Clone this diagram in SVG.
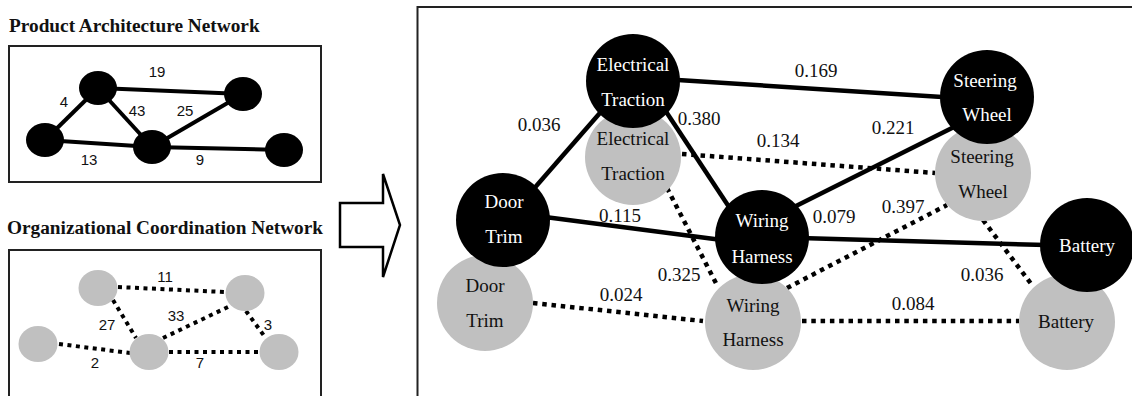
<svg xmlns="http://www.w3.org/2000/svg" width="1132" height="396" viewBox="0 0 1132 396">
  <style>
    .title { font-family: "Liberation Serif", "Times New Roman", serif; font-weight: bold; font-size: 19.3px; fill: #111; }
    .frame { fill: none; stroke: #222; stroke-width: 2; }
    .small { font-family: "Liberation Sans", Arial, sans-serif; font-size: 15px; fill: #111; text-anchor: middle; }
    .lbl { font-family: "Liberation Serif", "Times New Roman", serif; font-size: 19px; fill: #111; text-anchor: middle; }
    .pa { fill: #000; }
    .oc { fill: #c0c0c0; }
    .solid-s { stroke: #000; stroke-width: 4; fill: none; }
    .dot-s { stroke: #000; stroke-width: 4; stroke-dasharray: 4 4.5; fill: none; }
    .solid { stroke: #000; stroke-width: 4.5; fill: none; }
    .dot { stroke: #000; stroke-width: 4.5; stroke-dasharray: 4.5 4.8; fill: none; }
    .wt { fill: #fff; }
    .dk { fill: #111; }
  </style>

  <rect width="1132" height="396" fill="#fff"/>

  <!-- small product architecture network -->
  <text class="title" x="9" y="32">Product Architecture Network</text>
  <rect class="frame" x="9" y="46" width="312" height="136"/>
  <g id="pa-edges">
    <line class="solid-s" x1="98" y1="88" x2="243" y2="94"/>
    <line class="solid-s" x1="98" y1="88" x2="45" y2="140"/>
    <line class="solid-s" x1="98" y1="88" x2="152" y2="147"/>
    <line class="solid-s" x1="152" y1="147" x2="243" y2="94"/>
    <line class="solid-s" x1="45" y1="140" x2="152" y2="147"/>
    <line class="solid-s" x1="152" y1="147" x2="284" y2="150"/>
  </g>
  <g id="pa-nodes">
    <ellipse class="pa" cx="98" cy="88" rx="19" ry="17"/>
    <ellipse class="pa" cx="243" cy="94" rx="19" ry="17"/>
    <ellipse class="pa" cx="45" cy="140" rx="19" ry="17"/>
    <ellipse class="pa" cx="152" cy="147" rx="19" ry="17"/>
    <ellipse class="pa" cx="284" cy="150" rx="19" ry="17"/>
  </g>
  <g id="pa-labels">
    <text class="small" x="157" y="77">19</text>
    <text class="small" x="64" y="107">4</text>
    <text class="small" x="137" y="116">43</text>
    <text class="small" x="185" y="116">25</text>
    <text class="small" x="89" y="165">13</text>
    <text class="small" x="200" y="165">9</text>
  </g>

  <!-- small organizational coordination network -->
  <text class="title" x="7" y="234">Organizational Coordination Network</text>
  <rect class="frame" x="9" y="250" width="312" height="160"/>
  <g id="oc-edges">
    <line class="dot-s" x1="118" y1="287" x2="224" y2="292"/>
    <line class="dot-s" x1="113" y1="300" x2="136" y2="338"/>
    <line class="dot-s" x1="163" y1="338" x2="230" y2="306"/>
    <line class="dot-s" x1="246" y1="311" x2="265" y2="337"/>
    <line class="dot-s" x1="59" y1="344" x2="130" y2="353"/>
    <line class="dot-s" x1="169" y1="352" x2="260" y2="352"/>
  </g>
  <g id="oc-nodes">
    <ellipse class="oc" cx="98" cy="288" rx="19.5" ry="18"/>
    <ellipse class="oc" cx="245" cy="293" rx="19.5" ry="18"/>
    <ellipse class="oc" cx="38" cy="344" rx="19.5" ry="18"/>
    <ellipse class="oc" cx="149" cy="352" rx="19.5" ry="18"/>
    <ellipse class="oc" cx="279" cy="352" rx="19.5" ry="18"/>
  </g>
  <g id="oc-labels">
    <text class="small" x="165" y="282">11</text>
    <text class="small" x="107" y="330">27</text>
    <text class="small" x="176" y="321">33</text>
    <text class="small" x="268" y="330">3</text>
    <text class="small" x="95" y="368">2</text>
    <text class="small" x="200" y="368">7</text>
  </g>

  <!-- block arrow -->
  <polygon points="340,203 383,203 383,174 400,225 383,277 383,247 340,247" fill="#fff" stroke="#000" stroke-width="2.5" stroke-linejoin="miter"/>

  <!-- combined network -->
  <rect class="frame" x="417.5" y="7" width="730" height="400"/>
  <g id="connectors">
    <line class="solid" x1="670" y1="79.5" x2="950" y2="97.5"/>
    <line class="solid" x1="606" y1="106" x2="531" y2="192"/>
    <line class="solid" x1="661" y1="104" x2="733" y2="213"/>
    <line class="solid" x1="545" y1="217" x2="722" y2="240"/>
    <line class="solid" x1="788" y1="210" x2="958" y2="125"/>
    <line class="solid" x1="800" y1="238" x2="1046" y2="245"/>
    <line class="dot" x1="682" y1="154" x2="935" y2="173"/>
    <line class="dot" x1="667" y1="188" x2="718" y2="287"/>
    <line class="dot" x1="533" y1="303" x2="703" y2="321"/>
    <line class="dot" x1="787" y1="288" x2="947" y2="205"/>
    <line class="dot" x1="802" y1="321" x2="1019" y2="321"/>
    <line class="dot" x1="983" y1="220" x2="1032" y2="285"/>
  </g>

  <g id="et-oc"><circle class="oc" cx="633" cy="157" r="48"/><text class="lbl dk" x="633" y="145">Electrical</text><text class="lbl dk" x="633" y="180">Traction</text></g>
  <g id="sw-oc"><circle class="oc" cx="983" cy="173" r="48"/><text class="lbl dk" x="982" y="163">Steering</text><text class="lbl dk" x="983" y="198">Wheel</text></g>
  <g id="dt-oc"><circle class="oc" cx="485" cy="303" r="48"/><text class="lbl dk" x="485" y="292">Door</text><text class="lbl dk" x="485" y="327">Trim</text></g>
  <g id="wh-oc"><circle class="oc" cx="753" cy="322" r="48"/><text class="lbl dk" x="753" y="312">Wiring</text><text class="lbl dk" x="753" y="346">Harness</text></g>
  <g id="ba-oc"><circle class="oc" cx="1067" cy="322" r="48"/><text class="lbl dk" x="1066" y="328">Battery</text></g>

  <g id="et-pa"><circle class="pa" cx="633" cy="81" r="47"/><text class="lbl wt" x="633" y="71">Electrical</text><text class="lbl wt" x="633" y="106">Traction</text></g>
  <g id="sw-pa"><circle class="pa" cx="987" cy="97" r="47"/><text class="lbl wt" x="985" y="87">Steering</text><text class="lbl wt" x="987" y="121">Wheel</text></g>
  <g id="dt-pa"><circle class="pa" cx="503" cy="220" r="47"/><text class="lbl wt" x="504" y="208">Door</text><text class="lbl wt" x="504" y="243">Trim</text></g>
  <g id="wh-pa"><circle class="pa" cx="762" cy="237" r="47"/><text class="lbl wt" x="762" y="227">Wiring</text><text class="lbl wt" x="762" y="263">Harness</text></g>
  <g id="ba-pa"><circle class="pa" cx="1087" cy="245" r="47"/><text class="lbl wt" x="1087" y="252">Battery</text></g>

  <g id="weights">
    <text class="lbl" x="816" y="77">0.169</text>
    <text class="lbl" x="539" y="131">0.036</text>
    <text class="lbl" x="699" y="125">0.380</text>
    <text class="lbl" x="778" y="147">0.134</text>
    <text class="lbl" x="893" y="134">0.221</text>
    <text class="lbl" x="620" y="222">0.115</text>
    <text class="lbl" x="834" y="223">0.079</text>
    <text class="lbl" x="903" y="213">0.397</text>
    <text class="lbl" x="679" y="281">0.325</text>
    <text class="lbl" x="621" y="301">0.024</text>
    <text class="lbl" x="982" y="281">0.036</text>
    <text class="lbl" x="913" y="310">0.084</text>
  </g>
</svg>
